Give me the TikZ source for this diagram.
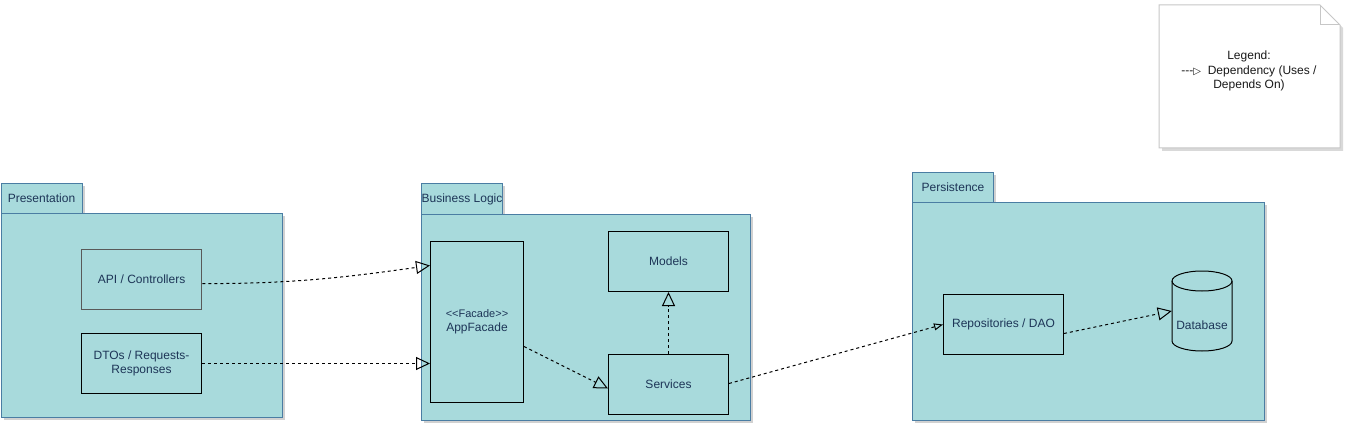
\documentclass[tikz,border=0pt]{standalone}
\usepackage{fontspec}
\setmainfont{Liberation Sans}
\newfontfamily\symfont{DejaVu Sans}
\usetikzlibrary{arrows.meta,shadows,calc}
\definecolor{pkgfill}{HTML}{A8DADC}
\definecolor{pkgline}{HTML}{4A7DA3}
\definecolor{txt}{HTML}{1D3557}
\begin{document}
\begin{tikzpicture}[x=1pt,y=-1pt,font=\fontsize{12}{14.5}\selectfont,
  pkg/.style={draw=pkgline,fill=pkgfill,line width=1pt,anchor=north west,inner sep=0pt,
    drop shadow={shadow xshift=2.5pt,shadow yshift=-2.5pt,opacity=0.18,fill=black}},
  tab/.style={pkg,text=txt},
  comp/.style={draw=black,fill=pkgfill,line width=1pt,text=txt,align=center,inner sep=0pt,
    anchor=north west,minimum width=120pt,minimum height=60pt},
  dep/.style={draw=black,line width=1pt,dash pattern=on 3pt off 3pt,
    -{Triangle[open,length=14pt,width=13pt,line width=1pt]}},
  depsmall/.style={draw=black,line width=1pt,dash pattern=on 3pt off 3pt,
    -{Triangle[open,length=9pt,width=7pt,line width=1pt]}}
]
\useasboundingbox (0,0) rectangle (1358,433);

% Legend note
\fill[black,opacity=0.15] (1162,8) -- (1323,8) -- (1343,28) -- (1343,151) -- (1162,151) -- cycle;
\draw[draw=black!22,fill=white,line width=1pt] (1159,5) -- (1320,5) -- (1340,25) -- (1340,148) -- (1159,148) -- cycle;
\draw[draw=black!22,line width=1pt] (1320,5) -- (1320,25) -- (1340,25);
\node[align=center,text=black!90] (legend) at (1249,71)
  {Legend:\\-{}-{}-{\symfont\fontsize{10}{10}\selectfont ▷}\ \ Dependency (Uses /\\Depends On)};

% Presentation
\node[tab,minimum width=81pt,minimum height=30pt] (presTab) at (0.5,183) {Presentation};
\node[pkg,minimum width=281.5pt,minimum height=204pt] (pres) at (0.5,213) {};
\node[comp,draw=black!65,line width=1.3pt] (api) at (81,249) {API / Controllers};
\node[comp] (dto) at (81,333) {DTOs / Requests-\\Responses};

% Business Logic
\node[tab,minimum width=81pt,minimum height=31pt] (bizTab) at (421,183) {Business Logic};
\node[pkg,minimum width=329pt,minimum height=206pt] (biz) at (421,214) {};
\node[comp,minimum width=93pt,minimum height=161pt] (facade) at (430,241)
  {{\fontsize{11}{13}\selectfont <{}<Facade>{}>}\\AppFacade};
\node[comp] (models) at (608,231) {Models};
\node[comp] (services) at (608,354) {Services};

% Persistence
\node[tab,minimum width=81pt,minimum height=30pt] (perTab) at (912,172) {Persistence};
\node[pkg,minimum width=352pt,minimum height=218pt] (per) at (912,202) {};
\node[comp] (repo) at (943,294) {Repositories / DAO};
\draw[fill=pkgfill,line width=1pt] (1172,281) -- (1172,341)
  arc[start angle=180,end angle=0,x radius=30,y radius=10] -- (1232,281)
  arc[start angle=0,end angle=-180,x radius=30,y radius=10] -- cycle;
\draw[line width=1pt] (1172,281) arc[start angle=180,end angle=0,x radius=30,y radius=10];
\node[minimum width=60pt,minimum height=80pt,inner sep=0pt,
  label={[text=txt,inner sep=0pt,yshift=-14pt]center:Database}] (db) at (1202,311) {};

% Dependencies
\draw[dep] ([yshift=-4pt]api.east) to[out=0,in=188] ([yshift=56.5pt]facade.west);
\draw[dep] (dto.east) -- ([yshift=-41.5pt]facade.west);
\draw[dep] ([yshift=-24.5pt]facade.east) -- ([yshift=-4pt]services.west);
\draw[dep] (services.north) -- (models.south);
\draw[depsmall] ([yshift=1pt]services.east) -- (repo.west);
\draw[dep] ([yshift=-9pt]repo.east) -- (db.west);
\end{tikzpicture}
\end{document}
